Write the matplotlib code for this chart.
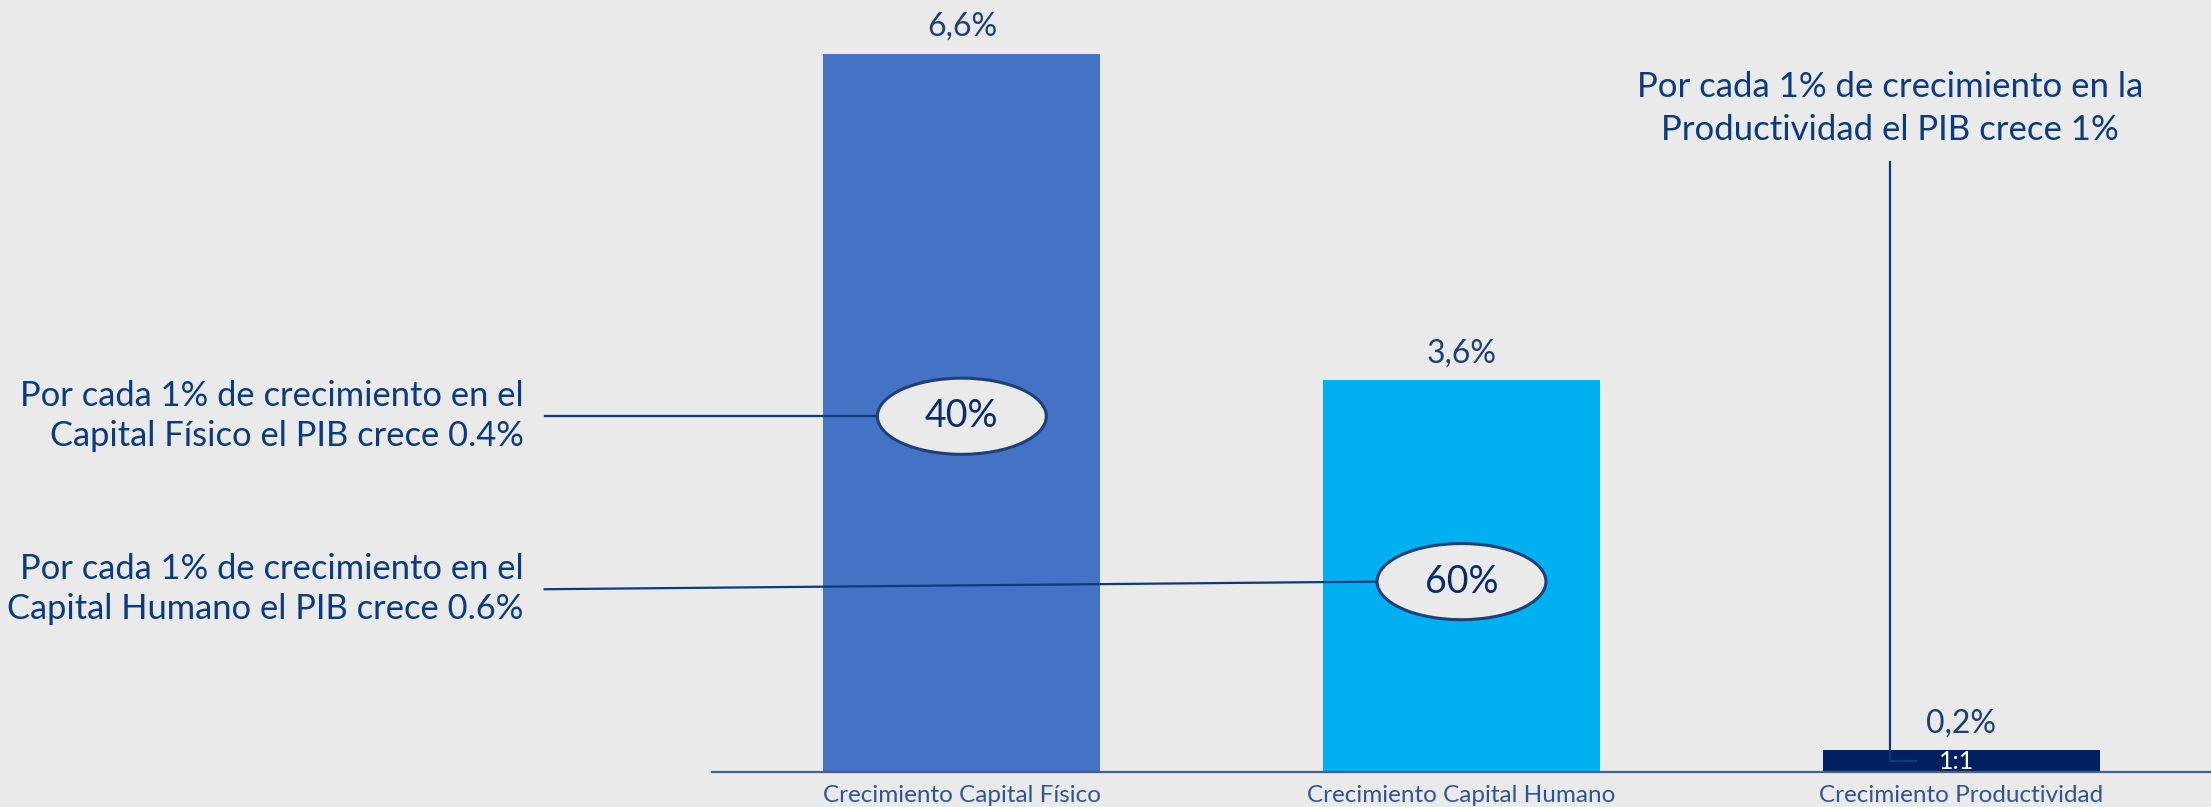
import matplotlib
matplotlib.use("Agg")
import matplotlib.pyplot as plt
from matplotlib.patches import Ellipse

# chart data
categories = ["Crecimiento Capital Físico", "Crecimiento Capital Humano", "Crecimiento Productividad"]
values = [6.6, 3.6, 0.2]
value_labels = ["6,6%", "3,6%", "0,2%"]
bar_colors = ["#4472C4", "#00B0F0", "#002060"]
shares = ["40%", "60%", "1:1"]
notes = ["Por cada 1% de crecimiento en el\nCapital Físico el PIB crece 0.4%",
         "Por cada 1% de crecimiento en el\nCapital Humano el PIB crece 0.6%",
         "Por cada 1% de crecimiento en la\nProductividad el PIB crece 1%"]

BG = "#EAEAEA"
NAVY = "#0B3A7E"
plt.rcParams['font.family'] = ['Lato', 'DejaVu Sans']

fig = plt.figure(figsize=(22.11, 8.07), dpi=100, facecolor=BG)
ax = fig.add_axes([712 / 2211, 35 / 807, 1499 / 2211, 772 / 807])
ax.set_facecolor(BG)

x = list(range(len(categories)))
ax.bar(x, values, width=0.555, color=bar_colors, zorder=2)
ax.set_xlim(-0.5, 2.5)
ax.set_ylim(0, 7.096)

for s in ['top', 'right', 'left']:
    ax.spines[s].set_visible(False)
ax.spines['bottom'].set_color("#44608F")
ax.spines['bottom'].set_linewidth(1.6)
ax.set_yticks([])
ax.set_xticks(x)
ax.set_xticklabels(categories, fontsize=17.5, color="#2F5597")
ax.tick_params(axis='x', length=0, pad=9)

# value labels above bars
for xi, v, lab in zip(x, values, value_labels):
    ax.text(xi, v + 0.25, lab, ha='center', va='center', fontsize=23, color="#1F3F74")

# callouts for capital fisico and humano
ell_y = [3.27, 1.75]
note_y = [3.27, 1.68]
for i in range(2):
    ax.plot([-0.835, i - 0.169], [note_y[i], ell_y[i]], color=NAVY, lw=1.6,
            clip_on=False, zorder=3)
    ax.add_patch(Ellipse((i, ell_y[i]), 0.338, 0.70, facecolor=BG, edgecolor="#1F3F7A",
                         lw=2.2, zorder=4))
    ax.text(i, ell_y[i], shares[i], ha='center', va='center', fontsize=27,
            color="#0A2A6A", zorder=5)
    ax.text(-0.877, note_y[i], notes[i], ha='right', va='center', fontsize=24.8,
            color=NAVY, linespacing=1.3, multialignment='right', clip_on=False)

# productividad callout
ax.plot([1.858, 1.858, 1.910], [5.61, 0.10, 0.10], color=NAVY, lw=1.6, zorder=3)
ax.text(1.858, 6.10, notes[2], ha='center', va='center', fontsize=25,
        color=NAVY, linespacing=1.4)
ax.text(1.99, 0.10, shares[2], ha='center', va='center', fontsize=18,
        color="white", zorder=5)

fig.savefig("out.png", dpi=100, facecolor=BG)
